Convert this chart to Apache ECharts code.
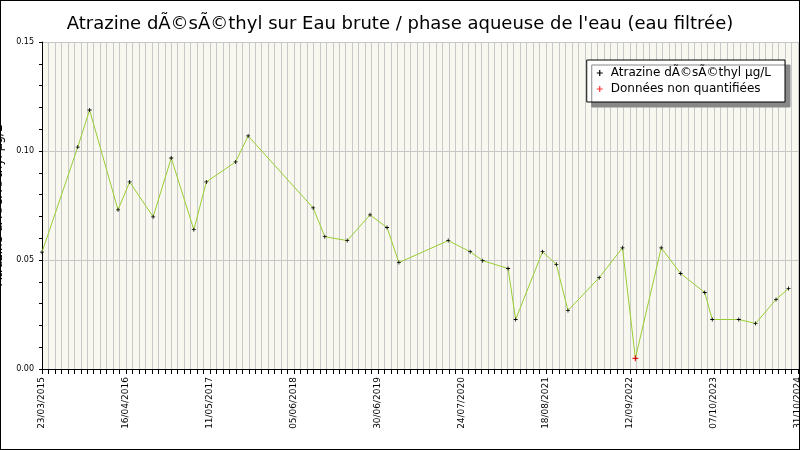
<!DOCTYPE html><html><head><meta charset="utf-8">
<script src="https://cdn.jsdelivr.net/npm/echarts@6/dist/echarts.min.js"></script>
<style>html,body{margin:0;padding:0}#c{width:800px;height:450px;box-sizing:border-box;border:1px solid #000}</style>
</head><body><div id="c"></div><script>
const startDate = '2015-03-23';
const dayOffsets = [0,166,221,353,407,516,600,705,763,899,957,1259,1313,1417,1523,1602,1657,1886,1988,2046,2164,2199,2324,2388,2442,2587,2695,2755,2875,2965,3077,3112,3235,3313,3408,3466];
const values = [0.0536,0.1018,0.1188,0.0730,0.0858,0.0698,0.0968,0.0639,0.0858,0.0950,0.1069,0.0739,0.0607,0.0589,0.0707,0.0649,0.0488,0.0589,0.0538,0.0497,0.0461,0.0227,0.0538,0.0480,0.0268,0.0419,0.0556,0.0049,0.0556,0.0438,0.0351,0.0227,0.0227,0.0209,0.0319,0.0369];
const nonQuantIdx = [27];
const seriesName = 'Atrazine dÃ©sÃ©thyl µg/L';
const nqName = 'Données non quantifiées';
const titleText = "Atrazine dÃ©sÃ©thyl sur Eau brute / phase aqueuse de l'eau (eau filtrée)";
const t0 = Date.UTC(2015,2,23), DAY=86400000;
const endDays = Math.round((Date.UTC(2024,9,31)-t0)/DAY);
const fmt = d => { const t=new Date(t0+d*DAY); const p=n=>String(n).padStart(2,'0'); return p(t.getUTCDate())+'/'+p(t.getUTCMonth()+1)+'/'+t.getUTCFullYear(); };
const cross = 'path://M4,0H6V4H10V6H6V10H4V6H0V4H4Z';
const chart = echarts.init(document.getElementById('c'));
chart.setOption({
  animation:false,
  textStyle:{fontFamily:'DejaVu Sans'},
  title:{text:titleText,left:'center',top:9,textStyle:{fontSize:18,fontWeight:'normal',color:'#000',fontFamily:'DejaVu Sans'}},
  grid:{left:41,right:1,top:41,bottom:80,backgroundColor:'#f8f8f0',show:true,borderWidth:0,outerBoundsMode:'none',containLabel:false},
  legend:{right:14,top:59,orient:'vertical',backgroundColor:'#fff',borderColor:'#000',borderWidth:1,padding:[7,14,7,10],itemGap:4,
    shadowColor:'#888',shadowOffsetX:5,shadowOffsetY:5,shadowBlur:0,itemWidth:12,itemHeight:6,
    textStyle:{fontSize:12,color:'#000'},
    data:[{name:seriesName,icon:cross},{name:nqName,icon:cross}]},
  xAxis:{type:'value',min:0,max:endDays,interval:390,
    axisLine:{lineStyle:{color:'#000'}},axisTick:{show:true,length:5,lineStyle:{color:'#000'}},
    minorTick:{show:true,splitNumber:13,length:5,lineStyle:{color:'#000'}},
    splitLine:{show:true,lineStyle:{color:'#c8c8c8'}},
    minorSplitLine:{show:true,lineStyle:{color:'#c8c8c8'}},
    axisLabel:{rotate:90,fontSize:9,color:'#000',formatter:v=>fmt(v),showMaxLabel:true}},
  yAxis:{type:'value',min:0,max:0.15,interval:0.05,name:seriesName,nameLocation:'middle',nameGap:24,
    nameTextStyle:{fontSize:12,color:'#000'},
    axisLine:{show:true,lineStyle:{color:'#000'}},axisTick:{show:true,length:3,lineStyle:{color:'#000'}},
    minorTick:{show:true,splitNumber:5,length:3,lineStyle:{color:'#000'}},
    splitLine:{lineStyle:{color:'#c8c8c8'}},
    axisLabel:{fontSize:8,color:'#000',formatter:v=>v.toFixed(2)}},
  series:[
    {name:seriesName,type:'line',data:dayOffsets.map((d,i)=>[d,values[i]]),symbol:cross,symbolSize:4,
      lineStyle:{color:'#9acd32',width:1},itemStyle:{color:'#000'}},
    {name:nqName,type:'scatter',data:nonQuantIdx.map(i=>[dayOffsets[i],values[i]]),symbol:cross,symbolSize:6,
      itemStyle:{color:'#ff0000'},z:5}
  ]
});
</script></body></html>
